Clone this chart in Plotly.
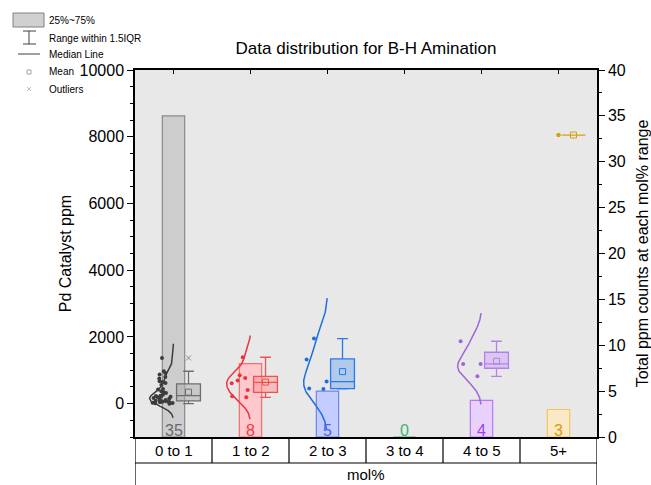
import numpy as np
import plotly.graph_objects as go

# ---------------- data ----------------
categories = ["0 to 1", "1 to 2", "2 to 3", "3 to 4", "4 to 5", "5+"]
counts = [35, 8, 5, 0, 4, 3]

ppm_0to1 = [0, 10, 20, 30, 40, 50, 60, 70, 80, 90, 110, 130, 150, 170, 190, 210, 220,
            230, 240, 270, 320, 340, 370, 420, 440, 560, 620, 650, 670, 750, 800, 870,
            920, 970, 1370]
ppm_1to2 = [190, 220, 410, 610, 690, 770, 850, 1390]
ppm_2to3 = [440, 450, 660, 1320, 1950]
ppm_3to4 = []
ppm_4to5 = [820, 1190, 1190, 1870]
ppm_5plus = [8050, 8050, 8050]
ppm_groups = [ppm_0to1, ppm_1to2, ppm_2to3, ppm_3to4, ppm_4to5, ppm_5plus]

box_q1 = [80, 340, 450, None, 1060, 8050]
box_median = [240, 640, 660, None, 1190, 8050]
box_q3 = [590, 820, 1340, None, 1540, 8050]
box_lower = [0, 190, 440, None, 820, 8050]
box_upper = [970, 1390, 1950, None, 1870, 8050]
box_mean = [345, 645, 960, None, 1270, 8050]
outliers_0to1 = [1370]

left_ticks = [0, 2000, 4000, 6000, 8000, 10000]

# ---------------- styles ----------------
curve_col = ["#3c3c3c", "#f0303c", "#1e6ee0", "#3cb371", "#a064dc", "#d4a017"]
box_line = ["#6e6e6e", "#f05050", "#2878e6", "#3cb371", "#b482e6", "#d4a017"]
box_fill = ["rgba(175,175,175,0.55)", "rgba(255,140,140,0.45)", "rgba(110,165,240,0.45)",
            "rgba(60,179,113,0.4)", "rgba(205,170,245,0.55)", "rgba(240,200,90,0.4)"]
bar_fill = ["rgba(205,205,205,1)", "rgba(255,200,205,1)", "rgba(195,205,255,1)",
            "rgba(180,235,200,1)", "rgba(232,208,255,1)", "rgba(250,232,198,1)"]
bar_line = ["#8a8a8a", "#f07070", "#6e82f0", "#3cb371", "#b878f5", "#f0c85a"]
label_col = ["#6a6a6a", "#f03c3c", "#4a64f0", "#3cb371", "#a040f0", "#d4a000"]
point_pos = [-0.85, -0.85, -0.85, -0.85, -0.85, 0]
point_jitter = [1, 1, 1, 1, 1, 0]

FONT = "Arial, Liberation Sans, sans-serif"
centers = [i + 0.5 for i in range(len(categories))]
BOX_OFF = 0.195
BOX_W = 0.31
VIOLIN_W = 0.31

fig = go.Figure()

# bars (counts, right axis 'y')
fig.add_trace(go.Bar(
    x=centers, y=counts, width=0.29, xaxis="x", yaxis="y",
    marker=dict(color=bar_fill, line=dict(color=bar_line, width=1.2)),
    showlegend=False, hoverinfo="skip"))

# empty trace to activate top tick axis
fig.add_trace(go.Scatter(x=[None], y=[None], xaxis="x2", yaxis="y", showlegend=False))


def kde_curve(vals):
    v = np.asarray(vals, float)
    n = len(v)
    sd = v.std(ddof=1)
    bw = 1.06 * sd * n ** -0.2
    grid = np.linspace(v.min() - 2.4 * bw, v.max() + 2.4 * bw, 240)
    d = np.exp(-0.5 * ((grid[:, None] - v[None, :]) / bw) ** 2).sum(1)
    return grid, d / d.max()


for i, vals in enumerate(ppm_groups):
    c = centers[i]
    if len(vals) > 1 and np.std(vals) > 0:
        g, d = kde_curve(vals)
        fig.add_trace(go.Scatter(
            x=c - VIOLIN_W * d, y=g, mode="lines", xaxis="x", yaxis="y2",
            line=dict(color=curve_col[i], width=1.5), showlegend=False, hoverinfo="skip"))
    if len(vals) > 0:
        # jittered points via an invisible box
        fig.add_trace(go.Box(
            y=vals, x=[c] * len(vals), xaxis="x", yaxis="y2",
            boxpoints="all", jitter=point_jitter[i], pointpos=point_pos[i], width=0.32,
            fillcolor="rgba(0,0,0,0)", line=dict(width=0, color="rgba(0,0,0,0)"),
            marker=dict(color=curve_col[i], size=4), showlegend=False, hoverinfo="y"))
    if box_q1[i] is not None:
        fig.add_trace(go.Box(
            x=[c + BOX_OFF], q1=[box_q1[i]], median=[box_median[i]], q3=[box_q3[i]],
            lowerfence=[box_lower[i]], upperfence=[box_upper[i]],
            xaxis="x", yaxis="y2", width=BOX_W, whiskerwidth=0.45,
            fillcolor=box_fill[i], line=dict(color=box_line[i], width=1.3),
            boxpoints=False, showlegend=False))
        fig.add_trace(go.Scatter(
            x=[c + BOX_OFF], y=[box_mean[i]], mode="markers", xaxis="x", yaxis="y2",
            marker=dict(symbol="square-open", size=6, color=box_line[i], line=dict(width=1)),
            showlegend=False))

fig.add_trace(go.Scatter(
    x=[centers[0] + BOX_OFF] * len(outliers_0to1), y=outliers_0to1, mode="markers",
    xaxis="x", yaxis="y2",
    marker=dict(symbol="x-thin-open", size=5, color="#8a8a8a", line=dict(width=1)),
    showlegend=False))

# ---------------- layout ----------------
L, R, T, B = 135, 54, 70, 48
W, H = 651, 485
PW, PH = W - L - R, H - T - B


def px(xp):
    return (xp - L) / PW


def py(yp):
    return (H - B - yp) / PH


annotations = []
shapes = []

# count labels
for i, n in enumerate(counts):
    annotations.append(dict(x=centers[i], y=0, xref="x", yref="y", text=str(n),
                            showarrow=False, yanchor="bottom", yshift=-4,
                            font=dict(family=FONT, size=16, color=label_col[i])))

# table under x axis
for i, cat in enumerate(categories):
    annotations.append(dict(x=centers[i], y=py(450), xref="x", yref="paper", text=cat,
                            showarrow=False, yanchor="middle",
                            font=dict(family=FONT, size=15, color="black")))
annotations.append(dict(x=3, y=py(474), xref="x", yref="paper", text="mol%",
                        showarrow=False, yanchor="middle",
                        font=dict(family=FONT, size=15, color="black")))
for k in range(1, 6):
    shapes.append(dict(type="line", xref="x", yref="paper", x0=k, x1=k,
                       y0=0, y1=py(463), line=dict(color="black", width=1.2)))
for k in (0, 6):
    shapes.append(dict(type="line", xref="x", yref="paper", x0=k, x1=k,
                       y0=0, y1=py(490), line=dict(color="black", width=1.2)))
shapes.append(dict(type="line", xref="x", yref="paper", x0=0, x1=6,
                   y0=py(463), y1=py(463), line=dict(color="black", width=1.2)))

# custom legend (top-left)
lg = dict(color="#404040", width=1)
shapes.append(dict(type="rect", xref="paper", yref="paper", x0=px(13), x1=px(44),
                   y0=py(13), y1=py(27), fillcolor="#d0d0d0", line=dict(color="#808080", width=1)))
shapes.append(dict(type="line", xref="paper", yref="paper", x0=px(29), x1=px(29),
                   y0=py(31), y1=py(44), line=lg))
for yy in (31, 44):
    shapes.append(dict(type="line", xref="paper", yref="paper", x0=px(23), x1=px(36),
                       y0=py(yy), y1=py(yy), line=lg))
shapes.append(dict(type="line", xref="paper", yref="paper", x0=px(18), x1=px(40),
                   y0=py(54), y1=py(54), line=lg))
shapes.append(dict(type="rect", xref="paper", yref="paper", x0=px(27), x1=px(31),
                   y0=py(70), y1=py(74), line=dict(color="#909090", width=0.8)))
for a, b in (((27, 87), (31, 91)), ((27, 91), (31, 87))):
    shapes.append(dict(type="line", xref="paper", yref="paper", x0=px(a[0]), x1=px(b[0]),
                       y0=py(a[1]), y1=py(b[1]), line=dict(color="#a0a0a0", width=0.7)))
for txt, yy in (("25%~75%", 21), ("Range within 1.5IQR", 38), ("Median Line", 54),
                ("Mean", 72), ("Outliers", 89)):
    annotations.append(dict(x=px(47), y=py(yy), xref="paper", yref="paper", text=txt,
                            showarrow=False, xanchor="left", yanchor="middle",
                            font=dict(family=FONT, size=10, color="black")))

fig.update_layout(
    width=W, height=H,
    margin=dict(l=L, r=R, t=T, b=B, pad=0, autoexpand=False),
    paper_bgcolor="white", plot_bgcolor="#e8e8e8",
    boxmode="overlay", barmode="overlay",
    showlegend=False,
    font=dict(family=FONT, color="black"),
    title=dict(text="Data distribution for B-H Amination", x=0.5, xref="paper",
               y=1 - 48 / H, yref="container", xanchor="center", yanchor="middle",
               font=dict(family=FONT, size=17, color="black")),
    xaxis=dict(range=[0, 6], showline=True, linecolor="black", linewidth=1.5, mirror=True,
               showticklabels=False, ticks="", showgrid=False, zeroline=False, automargin=False),
    xaxis2=dict(range=[0, 6], overlaying="x", side="top", anchor="y", tickvals=centers,
                ticks="inside", ticklen=4, tickcolor="black", showticklabels=False,
                showgrid=False, showline=False, zeroline=False, automargin=False),
    yaxis=dict(side="right", range=[0, 40], dtick=5, tick0=0, ticks="outside", ticklen=6,
               tickcolor="black", tickwidth=1.2, automargin=False,
               minor=dict(dtick=2.5, tick0=0, ticks="outside", ticklen=3, tickcolor="black"),
               showline=True, linecolor="black", linewidth=1.5, showgrid=False, zeroline=False,
               tickfont=dict(family=FONT, size=16, color="black"),
               title=dict(text="Total ppm counts at each mol% range",
                          font=dict(family=FONT, size=16, color="black"), standoff=15)),
    yaxis2=dict(side="left", overlaying="y", anchor="x", range=[-1000, 10000],
                tickvals=left_ticks, tickformat="d", ticks="outside", ticklen=6,
                tickcolor="black", tickwidth=1.2, automargin=False,
                minor=dict(dtick=500, tick0=0, ticks="outside", ticklen=3, tickcolor="black"),
                showline=True, linecolor="black", linewidth=1.5, showgrid=False, zeroline=False,
                tickfont=dict(family=FONT, size=16, color="black"),
                title=dict(text="Pd Catalyst ppm", font=dict(family=FONT, size=16, color="black"),
                           standoff=4)),
    annotations=annotations, shapes=shapes,
)

fig.write_html("out.html", config={"displayModeBar": False},
               post_script="document.body.style.margin='0';document.body.style.overflow='hidden';")
